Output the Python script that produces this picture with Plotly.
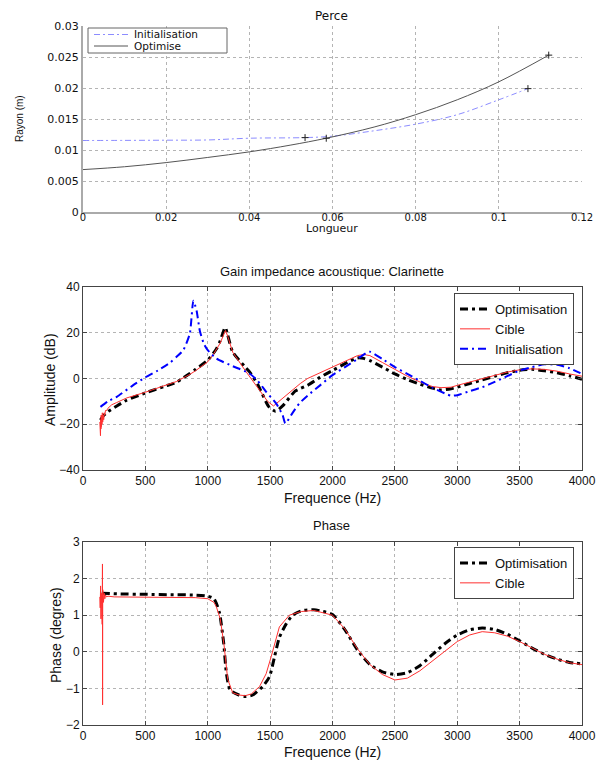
import plotly.graph_objects as go

# ---------------- Top panel: Perce ----------------
perce_init_x = [0.0, 0.01, 0.02, 0.03, 0.04, 0.0534, 0.06, 0.07, 0.08, 0.09, 0.1, 0.107]
perce_init_y = [0.01153, 0.01155, 0.01158, 0.01162, 0.0119, 0.0120, 0.01223, 0.0131, 0.01417, 0.0157, 0.0181, 0.0199]
perce_opt_x = [0.0, 0.01, 0.02, 0.03, 0.04, 0.05, 0.0585, 0.07, 0.08, 0.09, 0.1, 0.112]
perce_opt_y = [0.00684, 0.0073, 0.00797, 0.0088, 0.0097, 0.0108, 0.0119, 0.0137, 0.0157, 0.0181, 0.0210, 0.0253]
perce_init_mark_x = [0.0534, 0.107]
perce_init_mark_y = [0.0120, 0.0199]
perce_opt_mark_x = [0.0585, 0.112]
perce_opt_mark_y = [0.0119, 0.0253]
perce_xticks = [0, 0.02, 0.04, 0.06, 0.08, 0.1, 0.12]
perce_xticklabels = ["0", "0.02", "0.04", "0.06", "0.08", "0.1", "0.12"]
perce_yticks = [0, 0.005, 0.01, 0.015, 0.02, 0.025, 0.03]
perce_yticklabels = ["0", "0.005", "0.01", "0.015", "0.02", "0.025", "0.03"]

# ---------------- Middle panel: Gain ----------------
gain_opt_f = [140, 160, 200, 271, 350, 500, 650, 750, 850, 900, 1000, 1070, 1100, 1140, 1160, 1200,
              1300, 1335, 1400, 1490, 1543, 1600, 1700, 1742, 1800, 1900, 2000, 2100, 2200, 2250,
              2300, 2400, 2500, 2600, 2700, 2800, 2870, 2950, 3000, 3100, 3200, 3300, 3400, 3500,
              3600, 3700, 3800, 3900, 4000]
gain_opt_db = [-18.2, -16.5, -14.5, -12, -9.5, -6.3, -3.5, -1.6, 2, 3.9, 8, 13, 16.5, 22.3, 19, 11.6,
               5, 2.9, -2.5, -12.4, -14.3, -12, -5.5, -4.4, -3, 0.5, 3.5, 6.5, 9, 8.8,
               7.8, 5, 2, -0.5, -2.5, -4.2, -5, -4.5, -3.8, -2.2, -0.6, 1, 2.5, 3.6,
               4, 3.4, 2.5, 1.2, -0.3]
gain_cib_f = [135, 138, 140, 142, 144, 146, 148, 150, 152, 155, 158, 162, 166, 170, 175, 180, 190,
              200, 230, 270, 350, 500, 650, 750, 850, 900, 1000, 1050, 1100, 1130, 1142, 1160, 1200,
              1300, 1400, 1480, 1527, 1560, 1600, 1700, 1742, 1800, 1900, 2000, 2100, 2200, 2250,
              2300, 2400, 2500, 2600, 2700, 2800, 2870, 2950, 3000, 3100, 3200, 3300, 3400, 3500,
              3600, 3700, 3800, 3900, 4000]
gain_cib_db = [-19, -24, -25, -18, -22, -16, -21, -17, -20, -15, -19, -16, -18, -15, -16, -14, -14,
               -13, -11.5, -10.5, -8.5, -6, -3.2, -1.3, 1.6, 3.3, 7.3, 11, 15.5, 19.5, 21, 18.5, 11.5,
               3.5, -4, -10, -12, -10.5, -8.5, -3.8, -2.2, 0, 2.5, 5, 7.5, 10, 10.5,
               10, 7, 4, 1, -1.5, -3.5, -4, -3.8, -3, -1.5, 0, 1.5, 2.8, 3.8,
               4.2, 4, 3.2, 2, 1]
gain_ini_f = [140, 200, 271, 400, 500, 600, 700, 750, 804, 856, 885, 910, 936, 968, 1000, 1070, 1200,
              1335, 1400, 1468, 1548, 1600, 1622, 1680, 1734, 1800, 1900, 2000, 2100, 2200, 2280,
              2300, 2400, 2500, 2600, 2700, 2800, 2900, 2950, 3000, 3100, 3200, 3300, 3400, 3500,
              3600, 3700, 3800, 3900, 4000]
gain_ini_db = [-12.4, -10, -8, -3, 0.5, 3.5, 7, 9.5, 12.4, 19.6, 34, 29.8, 21, 15.3, 12.4, 8.7, 5.4,
               2.2, -1, -5.8, -10.9, -16, -19.6, -15, -10.9, -7.5, -3, 1.5, 5, 8.5, 11.5,
               11.7, 8.5, 5, 2, -1, -4, -6.5, -7.5, -7.3, -5.5, -3.8, -1.5, 1, 3.5,
               5, 6.2, 6, 4.5, 2]

# ---------------- Bottom panel: Phase ----------------
phase_opt_f = [150, 300, 500, 700, 900, 1000, 1050, 1070, 1095, 1128, 1150, 1180, 1250, 1300, 1360,
               1440, 1495, 1535, 1575, 1630, 1680, 1750, 1850, 1900, 2000, 2100, 2200, 2300, 2400,
               2500, 2600, 2700, 2800, 2900, 3000, 3100, 3200, 3300, 3400, 3500, 3600, 3700, 3800,
               3900, 4000]
phase_opt_v = [1.6, 1.58, 1.57, 1.56, 1.55, 1.52, 1.45, 1.32, 1.05, 0.23, -0.6, -1.05, -1.18, -1.22, -1.18,
               -0.95, -0.68, -0.14, 0.4, 0.77, 1.0, 1.12, 1.15, 1.12, 1.02, 0.6, 0.05, -0.35, -0.55,
               -0.62, -0.57, -0.38, -0.08, 0.22, 0.46, 0.6, 0.65, 0.61, 0.48, 0.3, 0.1, -0.07, -0.2,
               -0.29, -0.33]
phase_cib_f = [135, 138, 141, 144, 147, 150, 152, 154, 156, 157, 158, 160, 162, 164, 166, 168, 170, 175,
               180, 190, 200, 250, 300, 500, 700, 900, 1000, 1050, 1070, 1100, 1130, 1160, 1200, 1250,
               1300, 1350, 1415, 1468, 1508, 1548, 1574, 1654, 1750, 1850, 2000, 2100, 2200, 2300,
               2400, 2500, 2600, 2700, 2800, 2900, 3000, 3100, 3200, 3300, 3400, 3500, 3600, 3700,
               3800, 3900, 4000]
phase_cib_v = [1.5, 1.2, 1.8, 0.9, 1.6, 1.3, 1.9, 0.75, 2.4, -1.45, 1.7, 1.1, 1.6, 1.35, 1.55, 1.42, 1.6, 1.45,
               1.55, 1.5, 1.52, 1.5, 1.5, 1.5, 1.49, 1.48, 1.45, 1.35, 1.22, 0.9, 0.2, -0.75, -1.12, -1.18,
               -1.2, -1.15, -0.95, -0.6, -0.14, 0.4, 0.68, 1.0, 1.1, 1.13, 1.0, 0.62, 0.08, -0.35,
               -0.62, -0.77, -0.72, -0.52, -0.26, 0.02, 0.28, 0.46, 0.55, 0.52, 0.43, 0.28, 0.1, -0.07,
               -0.2, -0.3, -0.35]

freq_ticks = [0, 500, 1000, 1500, 2000, 2500, 3000, 3500, 4000]
gain_ticks = [-40, -20, 0, 20, 40]
phase_ticks = [-2, -1, 0, 1, 2, 3]

# ---------------- Layout geometry (screen px; body margin removed below) ----------------
W, H = 598, 760
PLOT_L, PLOT_R = 83, 582
PLOT_T, PLOT_B = 26, 725
ML, MR, MT, MB = PLOT_L, W - PLOT_R, PLOT_T, H - PLOT_B
PW = W - ML - MR
PH = H - MT - MB


def px_to_paper(xs, ys):
    return (xs - PLOT_L) / PW, (PLOT_B - ys) / PH


def ydom(top_px, bot_px):
    return [px_to_paper(0, bot_px)[1], px_to_paper(0, top_px)[1]]


TOPF = "DejaVu Sans"
SANS = "Liberation Sans, Arial, sans-serif"
INIT_DASH = "6px,3px,2px,3px"

fig = go.Figure()

# top traces
fig.add_trace(go.Scatter(x=perce_init_x, y=perce_init_y, mode="lines", name="Initialisation", showlegend=False,
                         line=dict(color="#8c8cff", width=1, dash=INIT_DASH, shape="spline"),
                         xaxis="x", yaxis="y"))
fig.add_trace(go.Scatter(x=perce_opt_x, y=perce_opt_y, mode="lines", name="Optimise", showlegend=False,
                         line=dict(color="#555555", width=1, shape="spline"),
                         xaxis="x", yaxis="y"))
fig.add_trace(go.Scatter(x=perce_init_mark_x + perce_opt_mark_x, y=perce_init_mark_y + perce_opt_mark_y,
                         mode="markers", showlegend=False,
                         marker=dict(symbol="cross-thin", size=5, line=dict(color="#222", width=1)),
                         xaxis="x", yaxis="y"))

# middle traces
fig.add_trace(go.Scatter(x=gain_opt_f, y=gain_opt_db, mode="lines", name="Optimisation",
                         line=dict(color="black", width=3, dash="8px,4px,3px,4px", shape="spline", smoothing=0.6),
                         xaxis="x2", yaxis="y2", legend="legend2"))
fig.add_trace(go.Scatter(x=gain_cib_f, y=gain_cib_db, mode="lines", name="Cible",
                         line=dict(color="#ff3030", width=1),
                         xaxis="x2", yaxis="y2", legend="legend2"))
fig.add_trace(go.Scatter(x=gain_ini_f, y=gain_ini_db, mode="lines", name="Initialisation",
                         line=dict(color="#0000ff", width=2, dash="8px,4px,2px,4px", shape="spline", smoothing=0.6),
                         xaxis="x2", yaxis="y2", legend="legend2"))

# bottom traces
fig.add_trace(go.Scatter(x=phase_opt_f, y=phase_opt_v, mode="lines", name="Optimisation",
                         line=dict(color="black", width=3, dash="8px,4px,3px,4px", shape="spline", smoothing=0.6),
                         xaxis="x3", yaxis="y3", legend="legend3"))
fig.add_trace(go.Scatter(x=phase_cib_f, y=phase_cib_v, mode="lines", name="Cible",
                         line=dict(color="#ff3030", width=1),
                         xaxis="x3", yaxis="y3", legend="legend3"))

grid = dict(showgrid=True, gridcolor="#b4b4b4", griddash="dot", gridwidth=1, zeroline=False, automargin=False)
box = dict(showline=True, linecolor="#444", linewidth=1, mirror="ticks", ticks="inside",
           ticklen=4, tickcolor="#444", tickfont=dict(family=SANS, size=12, color="#111"))

fig.update_layout(
    width=W, height=H, margin=dict(l=ML, r=MR, t=MT, b=MB, autoexpand=False),
    paper_bgcolor="white", plot_bgcolor="white", showlegend=True,
    xaxis=dict(domain=[0, 1], anchor="y", range=[0, 0.12], tickvals=perce_xticks, ticktext=perce_xticklabels,
               showline=True, linecolor="#aaaaaa", linewidth=2, ticks="", ticklabelstandoff=-5,
               tickfont=dict(family=TOPF, size=10, color="#111"), **grid),
    yaxis=dict(domain=ydom(26, 212), anchor="x", range=[0, 0.03], tickvals=perce_yticks, ticktext=perce_yticklabels,
               showline=True, linecolor="#aaaaaa", linewidth=2, ticks="",
               tickfont=dict(family=TOPF, size=11, color="#111"), **grid),
    xaxis2=dict(domain=[0, 1], anchor="y2", range=[0, 4000], tickvals=freq_ticks, **grid, **box),
    yaxis2=dict(domain=ydom(287, 470), anchor="x2", range=[-40, 40], tickvals=gain_ticks, **grid, **box),
    xaxis3=dict(domain=[0, 1], anchor="y3", range=[0, 4000], tickvals=freq_ticks, **grid, **box),
    yaxis3=dict(domain=ydom(542, 725), anchor="x3", range=[-2, 3], tickvals=phase_ticks, **grid, **box),
    legend2=dict(x=px_to_paper(454, 0)[0], y=px_to_paper(0, 293)[1], xanchor="left", yanchor="top",
                 bordercolor="#444", borderwidth=1, bgcolor="white",
                 font=dict(family=SANS, size=13, color="#111"), itemwidth=30),
    legend3=dict(x=px_to_paper(454, 0)[0], y=px_to_paper(0, 547)[1], xanchor="left", yanchor="top",
                 bordercolor="#444", borderwidth=1, bgcolor="white",
                 font=dict(family=SANS, size=13, color="#111"), itemwidth=30),
)


def label(text, xs, ys, size, family, angle=0, xanchor="center"):
    x, y = px_to_paper(xs, ys)
    fig.add_annotation(text=text, x=x, y=y, xref="paper", yref="paper", showarrow=False,
                       xanchor=xanchor, yanchor="middle", textangle=angle,
                       font=dict(family=family, size=size, color="#111"))


# compact legend box for the top panel
lx0, ly0 = px_to_paper(88, 53)
lx1, ly1 = px_to_paper(227, 28)
fig.add_shape(type="rect", xref="paper", yref="paper", x0=lx0, y0=ly0, x1=lx1, y1=ly1,
              line=dict(color="#666", width=1), fillcolor="white", layer="above")
for (name, ys, col, dash) in [("Initialisation", 34.5, "#8c8cff", INIT_DASH), ("Optimise", 46, "#555555", "solid")]:
    sx0, sy = px_to_paper(94, ys)
    sx1, _ = px_to_paper(128, ys)
    fig.add_shape(type="line", xref="paper", yref="paper", x0=sx0, x1=sx1, y0=sy, y1=sy,
                  line=dict(color=col, width=1, dash=dash), layer="above")
    label(name, 132, ys, 10.5, TOPF, xanchor="left")

label("Perce", 331, 16, 12, TOPF)
label("Longueur", 332, 229, 11, TOPF)
label("Rayon (m)", 19, 119, 10, "Liberation Sans Narrow, Liberation Sans", -90)
label("Gain impedance acoustique: Clarinette", 332, 271, 13, SANS)
label("Amplitude (dB)", 50, 380, 14, SANS, -90)
label("Frequence (Hz)", 332, 498, 14, SANS)
label("Phase", 331, 525, 13, SANS)
label("Phase (degres)", 56, 635, 14, SANS, -90)
label("Frequence (Hz)", 332, 752, 14, SANS)

fig.write_html("out.html", config={"displayModeBar": False},
               post_script="document.body.style.margin='0';document.body.style.overflow='hidden';")
